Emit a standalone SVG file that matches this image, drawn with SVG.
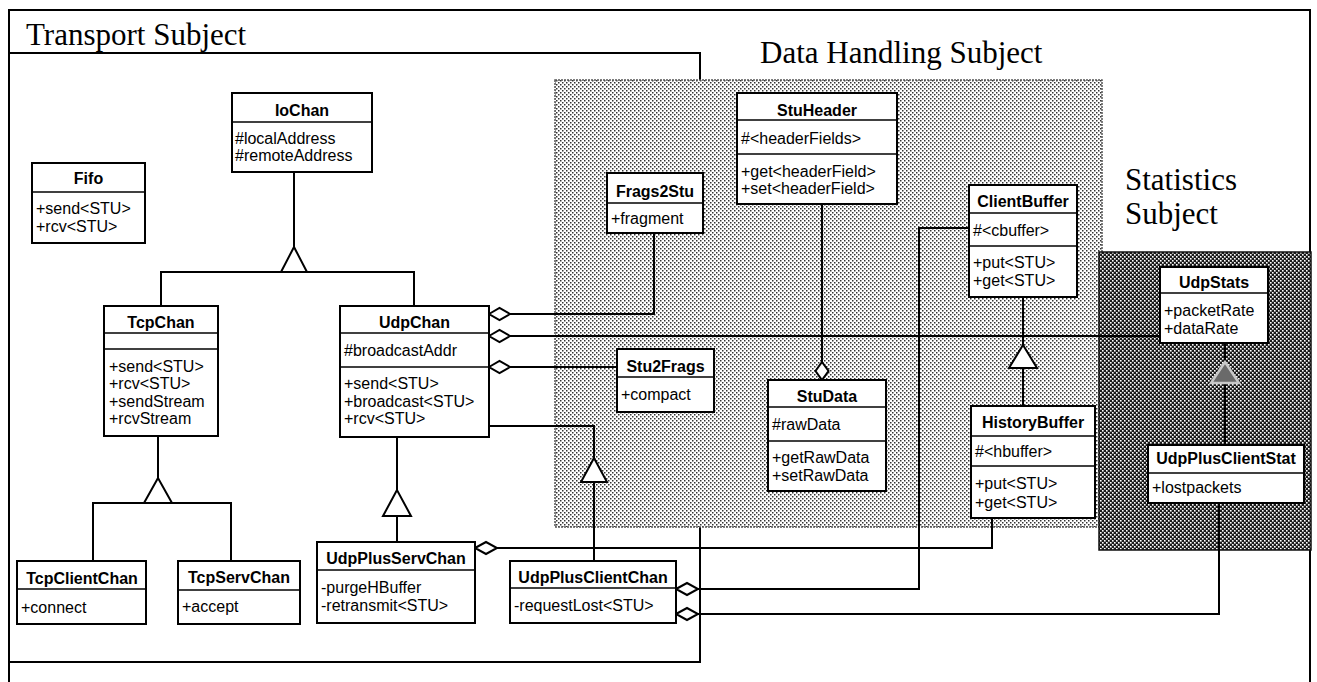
<svg xmlns="http://www.w3.org/2000/svg" width="1317" height="682" viewBox="0 0 1317 682">
  <defs>
    <pattern id="lightDots" width="4" height="4" patternUnits="userSpaceOnUse">
      <rect width="4" height="4" fill="#ffffff"/>
      <rect x="0" y="0" width="1.5" height="1.5" fill="#333333"/>
      <rect x="2" y="2" width="1.5" height="1.5" fill="#333333"/>
    </pattern>
    <pattern id="darkDots" width="4" height="4" patternUnits="userSpaceOnUse">
      <rect width="4" height="4" fill="#1a1a1a"/>
      <rect x="0" y="0" width="1.6" height="1.6" fill="#ffffff"/>
      <rect x="2" y="2" width="1.6" height="1.6" fill="#ffffff"/>
    </pattern>
    <style>
      .frame { fill: none; stroke: #000; stroke-width: 2; }
      .box { fill: #fff; stroke: #000; stroke-width: 2; }
      .sep { stroke: #000; stroke-width: 1.6; }
      .ln { fill: none; stroke: #000; stroke-width: 2; }
      .gen { fill: #fff; stroke: #000; stroke-width: 2; stroke-linejoin: miter; }
      .gen-dark { fill: #6a6a6a; stroke: #c8c8c8; stroke-width: 2.5; }
      .agg { fill: #fff; stroke: #000; stroke-width: 2; stroke-linejoin: miter; }
      .subj { font-family: "Liberation Serif", "Times New Roman", serif; font-size: 31px; fill: #000; }
      .t { font-family: "Liberation Sans", Arial, sans-serif; font-weight: bold; font-size: 16px; text-anchor: middle; fill: #000; }
      .m { font-family: "Liberation Sans", Arial, sans-serif; font-size: 16px; fill: #000; }
    </style>
  </defs>

  <rect width="1317" height="682" fill="#ffffff"/>

  <!-- subject frames -->
  <g id="frames">
    <polyline class="frame" points="9,682 9,10 1310,10 1310,682"/>
    <polyline class="frame" points="9,53 700,53 700,662 9,662"/>
    <rect id="data-handling-area" x="555" y="80" width="547" height="447" fill="url(#lightDots)" stroke="#555" stroke-width="1.5" stroke-dasharray="2 1"/>
    <rect id="statistics-area" x="1099" y="252" width="212" height="298" fill="url(#darkDots)" stroke="#111" stroke-width="1.5"/>
    <text class="subj" x="26" y="45">Transport Subject</text>
    <text class="subj" x="760" y="63" font-size="32">Data Handling Subject</text>
    <text class="subj" x="1125" y="190" font-size="30">Statistics</text>
    <text class="subj" x="1125" y="224" font-size="30">Subject</text>
  </g>

  <!-- connectors -->
  <g id="connectors">
    <!-- IoChan generalization -->
    <line class="ln" x1="294" y1="172" x2="294" y2="247"/>
    <polyline class="ln" points="161,306 161,272 414,272 414,306"/>
    <polygon class="gen" points="294,247 281,272 307,272"/>
    <!-- TcpChan generalization -->
    <line class="ln" x1="158" y1="436" x2="158" y2="478"/>
    <polyline class="ln" points="93,561 93,503 231,503 231,561"/>
    <polygon class="gen" points="158,478 144,503 172,503"/>
    <!-- UdpChan -> UdpPlusServChan -->
    <line class="ln" x1="397" y1="437" x2="397" y2="490"/>
    <line class="ln" x1="397" y1="516" x2="397" y2="542"/>
    <polygon class="gen" points="397,490 383,516 411,516"/>
    <!-- UdpChan -> UdpPlusClientChan -->
    <polyline class="ln" points="489,426 594,426 594,458"/>
    <line class="ln" x1="594" y1="482" x2="594" y2="561"/>
    <polygon class="gen" points="594,458 581,482 607,482"/>
    <!-- UdpChan aggregations -->
    <polyline class="ln" points="510,314 654,314 654,233"/>
    <polygon class="agg" points="489,314 499.5,308 510,314 499.5,320"/>
    <line class="ln" x1="510" y1="336" x2="1160" y2="336"/>
    <polygon class="agg" points="489,336 499.5,330 510,336 499.5,342"/>
    <line class="ln" x1="510" y1="367" x2="617" y2="367"/>
    <polygon class="agg" points="489,367 499.5,361 510,367 499.5,373"/>
    <!-- StuHeader -> StuData -->
    <line class="ln" x1="822" y1="204" x2="822" y2="362"/>
    <polygon class="agg" points="822,362 828.5,371 822,380 815.5,371"/>
    <!-- ClientBuffer generalization -->
    <line class="ln" x1="1023" y1="297" x2="1023" y2="345"/>
    <line class="ln" x1="1023" y1="368" x2="1023" y2="406"/>
    <polygon class="gen" points="1023,345 1009,368 1037,368"/>
    <!-- UdpStats generalization -->
    <line class="ln" x1="1225" y1="343" x2="1225" y2="362"/>
    <line class="ln" x1="1225" y1="383" x2="1225" y2="445"/>
    <polygon class="gen-dark" points="1225,362 1211,383 1239,383"/>
    <!-- UdpPlusServChan -> HistoryBuffer -->
    <polyline class="ln" points="497,548 992,548 992,518"/>
    <polygon class="agg" points="475,548 486,542 497,548 486,554"/>
    <!-- UdpPlusClientChan -> ClientBuffer -->
    <polyline class="ln" points="698,589 919,589 919,228 969,228"/>
    <polygon class="agg" points="676,589 687,583 698,589 687,595"/>
    <!-- UdpPlusClientChan -> UdpPlusClientStat -->
    <polyline class="ln" points="698,614 1219,614 1219,503"/>
    <polygon class="agg" points="676,614 687,608 698,614 687,620"/>
  </g>

  <g id="Fifo">
    <rect class="box" x="32" y="163" width="113" height="80"/>
    <line class="sep" x1="32" y1="192" x2="145" y2="192"/>
    <text class="t" x="88.5" y="184">Fifo</text>
    <text class="m" x="36" y="214">+send&lt;STU&gt;</text>
    <text class="m" x="36" y="232">+rcv&lt;STU&gt;</text>
  </g>

  <g id="IoChan">
    <rect class="box" x="232" y="93" width="140" height="79"/>
    <line class="sep" x1="232" y1="122" x2="372" y2="122"/>
    <text class="t" x="302" y="116">IoChan</text>
    <text class="m" x="235" y="144">#localAddress</text>
    <text class="m" x="235" y="161">#remoteAddress</text>
  </g>

  <g id="TcpChan">
    <rect class="box" x="104" y="306" width="114" height="130"/>
    <line class="sep" x1="104" y1="333" x2="218" y2="333"/>
    <line class="sep" x1="104" y1="349" x2="218" y2="349"/>
    <text class="t" x="161" y="328">TcpChan</text>
    <text class="m" x="109" y="372">+send&lt;STU&gt;</text>
    <text class="m" x="109" y="389">+rcv&lt;STU&gt;</text>
    <text class="m" x="109" y="407">+sendStream</text>
    <text class="m" x="109" y="424">+rcvStream</text>
  </g>

  <g id="UdpChan">
    <rect class="box" x="340" y="306" width="149" height="131"/>
    <line class="sep" x1="340" y1="333" x2="489" y2="333"/>
    <line class="sep" x1="340" y1="367" x2="489" y2="367"/>
    <text class="t" x="414.5" y="328">UdpChan</text>
    <text class="m" x="344" y="356">#broadcastAddr</text>
    <text class="m" x="344" y="389">+send&lt;STU&gt;</text>
    <text class="m" x="344" y="407">+broadcast&lt;STU&gt;</text>
    <text class="m" x="344" y="424">+rcv&lt;STU&gt;</text>
  </g>

  <g id="TcpClientChan">
    <rect class="box" x="17" y="561" width="129" height="63"/>
    <line class="sep" x1="17" y1="589" x2="146" y2="589"/>
    <text class="t" x="82" y="584">TcpClientChan</text>
    <text class="m" x="21" y="613">+connect</text>
  </g>

  <g id="TcpServChan">
    <rect class="box" x="178" y="561" width="122" height="63"/>
    <line class="sep" x1="178" y1="590" x2="300" y2="590"/>
    <text class="t" x="239" y="583">TcpServChan</text>
    <text class="m" x="182" y="612">+accept</text>
  </g>

  <g id="UdpPlusServChan">
    <rect class="box" x="317" y="542" width="158" height="81"/>
    <line class="sep" x1="317" y1="570" x2="475" y2="570"/>
    <text class="t" x="396" y="564">UdpPlusServChan</text>
    <text class="m" x="321" y="593">-purgeHBuffer</text>
    <text class="m" x="321" y="611">-retransmit&lt;STU&gt;</text>
  </g>

  <g id="UdpPlusClientChan">
    <rect class="box" x="510" y="561" width="166" height="62"/>
    <line class="sep" x1="510" y1="588" x2="676" y2="588"/>
    <text class="t" x="593" y="583">UdpPlusClientChan</text>
    <text class="m" x="514" y="611">-requestLost&lt;STU&gt;</text>
  </g>

  <g id="Frags2Stu">
    <rect class="box" x="607" y="173" width="96" height="60"/>
    <line class="sep" x1="607" y1="203" x2="703" y2="203"/>
    <text class="t" x="655" y="197">Frags2Stu</text>
    <text class="m" x="611" y="224">+fragment</text>
  </g>

  <g id="StuHeader">
    <rect class="box" x="737" y="93" width="160" height="111"/>
    <line class="sep" x1="737" y1="120" x2="897" y2="120"/>
    <line class="sep" x1="737" y1="154" x2="897" y2="154"/>
    <text class="t" x="817" y="116">StuHeader</text>
    <text class="m" x="741" y="144">#&lt;headerFields&gt;</text>
    <text class="m" x="741" y="177">+get&lt;headerField&gt;</text>
    <text class="m" x="741" y="194">+set&lt;headerField&gt;</text>
  </g>

  <g id="Stu2Frags">
    <rect class="box" x="617" y="349" width="97" height="63"/>
    <line class="sep" x1="617" y1="377" x2="714" y2="377"/>
    <text class="t" x="665.5" y="372">Stu2Frags</text>
    <text class="m" x="621" y="400">+compact</text>
  </g>

  <g id="StuData">
    <rect class="box" x="768" y="380" width="118" height="111"/>
    <line class="sep" x1="768" y1="407" x2="886" y2="407"/>
    <line class="sep" x1="768" y1="441" x2="886" y2="441"/>
    <text class="t" x="827" y="402">StuData</text>
    <text class="m" x="772" y="430">#rawData</text>
    <text class="m" x="772" y="463">+getRawData</text>
    <text class="m" x="772" y="481">+setRawData</text>
  </g>

  <g id="ClientBuffer">
    <rect class="box" x="969" y="185" width="108" height="112"/>
    <line class="sep" x1="969" y1="213" x2="1077" y2="213"/>
    <line class="sep" x1="969" y1="246" x2="1077" y2="246"/>
    <text class="t" x="1023" y="207">ClientBuffer</text>
    <text class="m" x="973" y="236">#&lt;cbuffer&gt;</text>
    <text class="m" x="973" y="268">+put&lt;STU&gt;</text>
    <text class="m" x="973" y="286">+get&lt;STU&gt;</text>
  </g>

  <g id="HistoryBuffer">
    <rect class="box" x="971" y="406" width="124" height="112"/>
    <line class="sep" x1="971" y1="436" x2="1095" y2="436"/>
    <line class="sep" x1="971" y1="466" x2="1095" y2="466"/>
    <text class="t" x="1033" y="428">HistoryBuffer</text>
    <text class="m" x="975" y="457">#&lt;hbuffer&gt;</text>
    <text class="m" x="975" y="489">+put&lt;STU&gt;</text>
    <text class="m" x="975" y="508">+get&lt;STU&gt;</text>
  </g>

  <g id="UdpStats">
    <rect class="box" x="1160" y="267" width="108" height="76"/>
    <line class="sep" x1="1160" y1="293" x2="1268" y2="293"/>
    <text class="t" x="1214" y="288">UdpStats</text>
    <text class="m" x="1164" y="316">+packetRate</text>
    <text class="m" x="1164" y="334">+dataRate</text>
  </g>

  <g id="UdpPlusClientStat">
    <rect class="box" x="1148" y="445" width="156" height="58"/>
    <line class="sep" x1="1148" y1="473" x2="1304" y2="473"/>
    <text class="t" x="1226" y="464">UdpPlusClientStat</text>
    <text class="m" x="1152" y="493">+lostpackets</text>
  </g>
</svg>
